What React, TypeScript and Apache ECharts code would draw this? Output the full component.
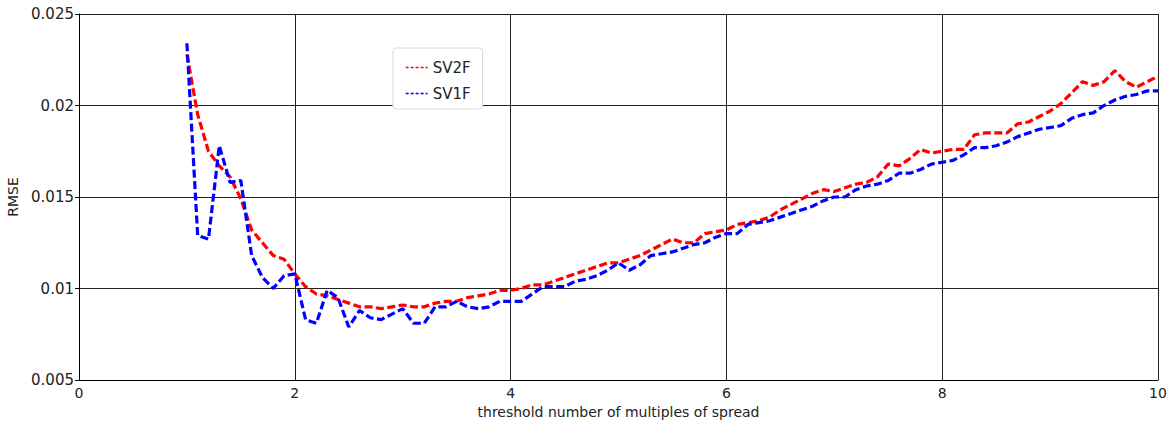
import React, { useEffect, useRef } from "react";
import * as echarts from "echarts";

// Threshold (multiples of spread) at which each RMSE sample was taken
const thresholds = [
  1.0, 1.1, 1.2, 1.3, 1.4, 1.5, 1.6, 1.7, 1.8, 1.9,
  2.0, 2.1, 2.2, 2.3, 2.4, 2.5, 2.6, 2.7, 2.8, 2.9,
  3.0, 3.1, 3.2, 3.3, 3.4, 3.5, 3.6, 3.7, 3.8, 3.9,
  4.0, 4.1, 4.2, 4.3, 4.4, 4.5, 4.6, 4.7, 4.8, 4.9,
  5.0, 5.1, 5.2, 5.3, 5.4, 5.5, 5.6, 5.7, 5.8, 5.9,
  6.0, 6.1, 6.2, 6.3, 6.4, 6.5, 6.6, 6.7, 6.8, 6.9,
  7.0, 7.1, 7.2, 7.3, 7.4, 7.5, 7.6, 7.7, 7.8, 7.9,
  8.0, 8.1, 8.2, 8.3, 8.4, 8.5, 8.6, 8.7, 8.8, 8.9,
  9.0, 9.1, 9.2, 9.3, 9.4, 9.5, 9.6, 9.7, 9.8, 9.9,
  10.0,
];

const sv2f = [
  0.0228, 0.0195, 0.0175, 0.0167, 0.0161, 0.0149, 0.0132, 0.0125, 0.0118, 0.0116,
  0.0108, 0.0101, 0.0097, 0.0096, 0.0094, 0.0092, 0.0090, 0.0090, 0.0089, 0.0090,
  0.0091, 0.0090, 0.0090, 0.0092, 0.0093, 0.0093, 0.0095, 0.0096, 0.0097, 0.0099,
  0.0099, 0.0100, 0.0102, 0.0102, 0.0104, 0.0106, 0.0108, 0.0110, 0.0112, 0.0114,
  0.0114, 0.0116, 0.0118, 0.0121, 0.0124, 0.0127, 0.0125, 0.0125, 0.0130, 0.0131,
  0.0132, 0.0135, 0.0136, 0.0137, 0.0139, 0.0143, 0.0146, 0.0149, 0.0152, 0.0154,
  0.0153, 0.0155, 0.0157, 0.0158, 0.0161, 0.0168, 0.0167, 0.0171, 0.0176, 0.0174,
  0.0175, 0.0176, 0.0176, 0.0184, 0.0185, 0.0185, 0.0185, 0.0190, 0.0191, 0.0194,
  0.0197, 0.0201, 0.0207, 0.0213, 0.0211, 0.0213, 0.0219, 0.0213, 0.0210, 0.0213,
  0.0216,
];

const sv1f = [
  0.0234, 0.0129, 0.0127, 0.0178, 0.0158, 0.0159, 0.0118, 0.0106, 0.0100, 0.0107,
  0.0108, 0.0083, 0.0081, 0.0099, 0.0095, 0.0079, 0.0088, 0.0084, 0.0083, 0.0086,
  0.0089, 0.0081, 0.0081, 0.0090, 0.0090, 0.0093, 0.0090, 0.0089, 0.0090, 0.0093,
  0.0093, 0.0093, 0.0097, 0.0101, 0.0101, 0.0101, 0.0104, 0.0105, 0.0107, 0.0110,
  0.0114, 0.0110, 0.0113, 0.0118, 0.0119, 0.0120, 0.0122, 0.0124, 0.0125, 0.0128,
  0.0130, 0.0130, 0.0135, 0.0136, 0.0137, 0.0139, 0.0141, 0.0143, 0.0145, 0.0148,
  0.0150, 0.0150, 0.0154, 0.0156, 0.0157, 0.0159, 0.0163, 0.0163, 0.0165, 0.0168,
  0.0169, 0.0170, 0.0173, 0.0177, 0.0177, 0.0178, 0.0180, 0.0183, 0.0185, 0.0187,
  0.0188, 0.0189, 0.0193, 0.0195, 0.0196, 0.0200, 0.0203, 0.0205, 0.0206, 0.0208,
  0.0208,
];

const FONT = "DejaVu Sans";
const RED = "#ff0000";
const BLUE = "#0000ff";

export default function App() {
  const ref = useRef<HTMLDivElement>(null);

  useEffect(() => {
    if (!ref.current) return;
    const chart = echarts.init(ref.current, undefined, { renderer: "svg" });

    const pair = (ys: number[]) => thresholds.map((x, i) => [x, ys[i]]);

    chart.setOption({
      animation: false,
      backgroundColor: "#ffffff",
      textStyle: { fontFamily: FONT },
      grid: {
        left: 79,
        right: 18,
        top: 14,
        bottom: 41,
        containLabel: false,
        outerBoundsMode: "none",
      },
      legend: {
        orient: "vertical",
        left: 393,
        top: 48,
        padding: [12, 12, 8, 12],
        itemGap: 11,
        itemWidth: 22,
        itemHeight: 10,
        backgroundColor: "#ffffff",
        borderColor: "#d8d8d8",
        borderWidth: 1,
        borderRadius: 3,
        // line-only marker: the point symbol is hidden, the dashed stroke kept thin
        itemStyle: { opacity: 0 },
        lineStyle: { width: 1.3, type: [3, 2] },
        textStyle: { fontFamily: FONT, fontSize: 15, color: "#222" },
        data: ["SV2F", "SV1F"],
      },
      xAxis: {
        type: "value",
        min: 0,
        max: 10,
        interval: 2,
        name: "threshold number of multiples of spread",
        nameLocation: "middle",
        nameGap: 24,
        nameTextStyle: { fontFamily: FONT, fontSize: 14, color: "#222" },
        axisLine: { show: true, onZero: false, lineStyle: { color: "#000", width: 1 } },
        axisTick: { show: false },
        axisLabel: { margin: 6, fontFamily: FONT, fontSize: 14, color: "#222" },
        splitLine: { show: true, lineStyle: { color: "#222", width: 1 } },
      },
      yAxis: {
        type: "value",
        min: 0.005,
        max: 0.025,
        interval: 0.005,
        name: "RMSE",
        nameLocation: "middle",
        nameGap: 58,
        nameTextStyle: { fontFamily: FONT, fontSize: 14, color: "#222" },
        axisLine: { show: true, lineStyle: { color: "#000", width: 1 } },
        axisTick: { show: true, length: 4, lineStyle: { color: "#000" } },
        axisLabel: { margin: 5, fontFamily: FONT, fontSize: 15, color: "#222" },
        splitLine: { show: true, lineStyle: { color: "#222", width: 1 } },
      },
      series: [
        {
          name: "SV2F",
          type: "line",
          data: pair(sv2f),
          showSymbol: false,
          symbol: "none",
          color: RED,
          lineStyle: { color: RED, width: 3.2, type: [8, 3.5] },
          z: 3,
        },
        {
          name: "SV1F",
          type: "line",
          data: pair(sv1f),
          showSymbol: false,
          symbol: "none",
          color: BLUE,
          lineStyle: { color: BLUE, width: 3.2, type: [8, 3.5] },
          z: 4,
        },
      ],
    });

    return () => chart.dispose();
  }, []);

  return (
    <div
      ref={ref}
      style={{ position: "fixed", left: 0, top: 0, width: 1176, height: 421 }}
    />
  );
}
